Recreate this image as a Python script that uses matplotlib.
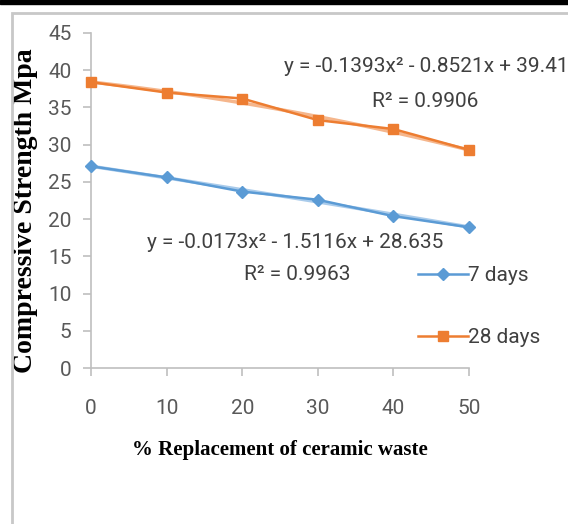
import numpy as np
import matplotlib.pyplot as plt
from matplotlib.patches import Rectangle

replacement = [0, 10, 20, 30, 40, 50]
days7 = [27.1, 25.6, 23.7, 22.6, 20.4, 18.9]
days28 = [38.4, 37.0, 36.2, 33.3, 32.1, 29.3]

# Excel trendline coefficients (x = point index 1..6)
fit7 = [-0.0173, -1.5116, 28.635]
fit28 = [-0.1393, -0.8521, 39.41]

blue = '#5B9BD5'
orange = '#ED7D31'
grey = '#595959'
sans = ['Roboto', 'DejaVu Sans']

fig = plt.figure(figsize=(5.68, 5.24), dpi=100)
fig.patches.append(Rectangle((12 / 568, -0.1), 1.2, (1 - 13 / 524) + 0.1,
                             transform=fig.transFigure, fill=False,
                             edgecolor='#C8C8C8', linewidth=2))
fig.patches.append(Rectangle((0, 1 - 4 / 524), 1, 4 / 524,
                             transform=fig.transFigure, color='black'))

ax = fig.add_axes([91 / 568, 1 - 368 / 524, (469 - 91) / 568, (368 - 33) / 524])

idx = np.linspace(1, 6, 100)
xs = (idx - 1) * 10
ax.plot(xs, np.polyval(fit7, idx), color='#A9CBEB', lw=2.5, zorder=2)
ax.plot(xs, np.polyval(fit28, idx), color='#F5B68C', lw=2.5, zorder=2)

l7, = ax.plot(replacement, days7, color=blue, marker='D', markersize=6,
              lw=1.8, label='7 days', zorder=3, clip_on=False)
l28, = ax.plot(replacement, days28, color=orange, marker='s', markersize=7.5,
               lw=1.8, label='28 days', zorder=3, clip_on=False)

ax.set_xlim(0, 50)
ax.set_ylim(0, 45)
ax.set_xticks(replacement)
ax.set_yticks(range(0, 46, 5))
for s in ['top', 'right']:
    ax.spines[s].set_visible(False)
for s in ['left', 'bottom']:
    ax.spines[s].set_color('#BFBFBF')
    ax.spines[s].set_linewidth(1.2)
ax.tick_params(colors='#BFBFBF', labelcolor=grey, length=6, width=1.2,
               labelsize=15)
ax.tick_params(axis='x', pad=16)
ax.tick_params(axis='y', pad=8)
for lab in ax.get_xticklabels() + ax.get_yticklabels():
    lab.set_family(sans)

ax.set_ylabel('Compressive Strength Mpa', family='Liberation Serif',
              fontweight='bold', fontsize=20)
ax.yaxis.set_label_coords(-0.14, 0.47)
ax.set_xlabel('% Replacement of ceramic waste', family='Liberation Serif',
              fontweight='bold', fontsize=15, labelpad=16)

eqfont = dict(family=sans, fontsize=15, color='#404040', ha='center', va='center')
fig.text(426 / 568, 1 - 67 / 524, 'y = -0.1393x² - 0.8521x + 39.41', **eqfont)
fig.text(425 / 568, 1 - 102 / 524, 'R² = 0.9906', **eqfont)
fig.text(295 / 568, 1 - 243 / 524, 'y = -0.0173x² - 1.5116x + 28.635', **eqfont)
fig.text(297 / 568, 1 - 275 / 524, 'R² = 0.9963', **eqfont)

leg = fig.legend(handles=[l7, l28], loc='upper left',
                 bbox_to_anchor=(410 / 568, 1 - 258 / 524), frameon=False,
                 prop={'family': sans, 'size': 15},
                 labelspacing=2.05, handlelength=2.4, handletextpad=0.0,
                 borderaxespad=0)
for t in leg.get_texts():
    t.set_color('#404040')

fig.savefig('out.png', dpi=100)
